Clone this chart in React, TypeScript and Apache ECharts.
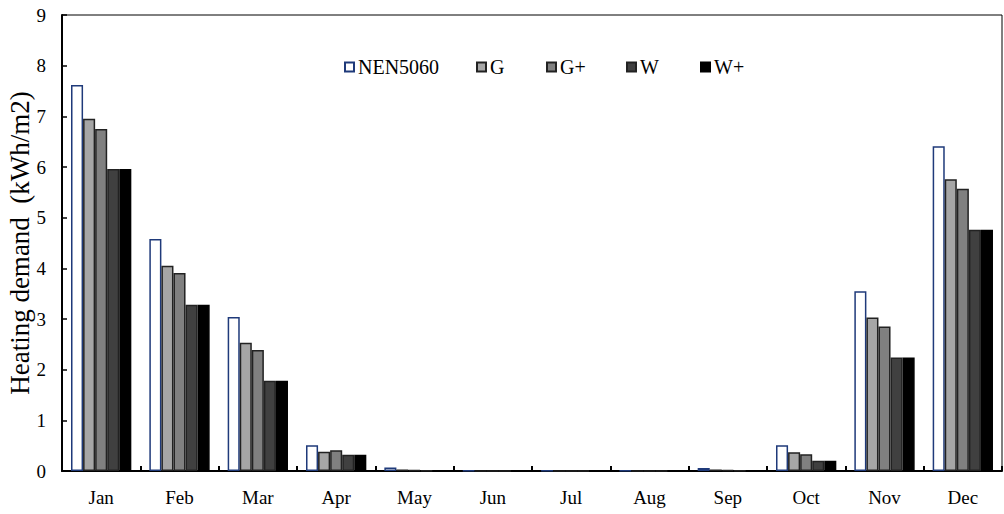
import React, { useEffect, useRef } from "react";
import * as echarts from "echarts";

const months = ["Jan", "Feb", "Mar", "Apr", "May", "Jun", "Jul", "Aug", "Sep", "Oct", "Nov", "Dec"];
const seriesNames = ["NEN5060", "G", "G+", "W", "W+"];
const nen5060 = [7.62, 4.58, 3.04, 0.51, 0.07, 0.005, 0.005, 0.005, 0.06, 0.51, 3.55, 6.41];
const g = [6.95, 4.05, 2.53, 0.38, 0.03, 0.003, 0.003, 0.003, 0.03, 0.37, 3.03, 5.76];
const gPlus = [6.75, 3.91, 2.39, 0.41, 0.02, 0.003, 0.003, 0.003, 0.02, 0.33, 2.85, 5.57];
const w = [5.96, 3.28, 1.78, 0.32, 0.01, 0.002, 0.002, 0.002, 0.01, 0.2, 2.24, 4.76];
const wPlus = [5.96, 3.28, 1.78, 0.32, 0.01, 0.002, 0.002, 0.002, 0.01, 0.2, 2.24, 4.76];
const yTicks = [0, 1, 2, 3, 4, 5, 6, 7, 8, 9];

const fills = ["#ffffff", "#a6a6a6", "#808080", "#404040", "#000000"];
const borders = ["#1f3a7a", "#222222", "#222222", "#222222", "#000000"];
const legendLefts = [344, 476, 546, 626, 700];
const FONT = "'Liberation Serif', 'Times New Roman', Times, serif";

export default function App() {
  const ref = useRef<HTMLDivElement>(null);
  useEffect(() => {
    if (!ref.current) return;
    const chart = echarts.init(ref.current, null, { renderer: "svg" });
    const data = [nen5060, g, gPlus, w, wPlus];
    chart.setOption({
      animation: false,
      textStyle: { fontFamily: FONT },
      legend: seriesNames.map((name, i) => ({
        left: legendLefts[i],
        top: 57,
        padding: 0,
        icon: "rect",
        itemWidth: 9,
        itemHeight: 9,
        itemGap: 0,
        textStyle: { fontFamily: FONT, fontSize: 20, color: "#000", padding: [0, 0, 0, -1] },
        data: [name],
      })),
      grid: {
        left: 62,
        right: 2,
        top: 15,
        bottom: 43,
        show: true,
        borderColor: "#000",
        borderWidth: 1,
        containLabel: false,
        outerBoundsMode: "none",
      },
      xAxis: {
        type: "category",
        data: months,
        axisLine: { lineStyle: { color: "#000", width: 2 } },
        axisTick: { show: true, inside: true, length: 5, lineStyle: { color: "#000", width: 2 } },
        axisLabel: { color: "#000", fontFamily: FONT, fontSize: 19, margin: 17 },
      },
      yAxis: {
        type: "value",
        min: yTicks[0],
        max: yTicks[yTicks.length - 1],
        interval: 1,
        name: "Heating demand  (kWh/m2)",
        nameLocation: "middle",
        nameGap: 29,
        nameMoveOverlap: false,
        nameTextStyle: { fontFamily: FONT, fontSize: 27, color: "#000" },
        splitLine: { show: false },
        axisLine: { show: true, lineStyle: { color: "#000", width: 2 } },
        axisTick: { show: true, inside: true, length: 5, lineStyle: { color: "#000", width: 1.5 } },
        axisLabel: { color: "#000", fontFamily: FONT, fontSize: 19, margin: 16 },
      },
      series: seriesNames.map((name, i) => ({
        name,
        type: "bar",
        data: data[i],
        barGap: "0%",
        barCategoryGap: "23%",
        itemStyle: { color: fills[i], borderColor: borders[i], borderWidth: 1.5 },
      })),
    });
    return () => chart.dispose();
  }, []);
  return <div ref={ref} style={{ width: 1004, height: 514, position: "absolute", left: 0, top: 0 }} />;
}
